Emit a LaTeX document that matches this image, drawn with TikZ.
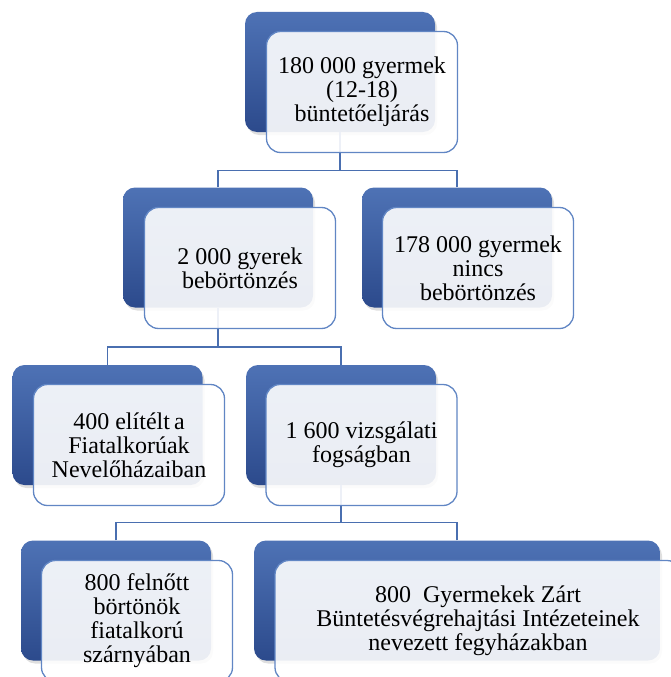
\documentclass[tikz,border=0pt]{standalone}
\usepackage{fontspec}
\setmainfont{Liberation Serif}
\newfontfamily\boxfont{Liberation Serif}
\usepackage{tikz}
\usetikzlibrary{positioning}
\usetikzlibrary{shadows}
\definecolor{boxblue}{HTML}{4E72B5}
\definecolor{boxdarkblue}{HTML}{2C4A8C}
\definecolor{lineblue}{HTML}{4A6FB0}
\definecolor{frameblue}{HTML}{6186C4}
\tikzset {
  % blue box in the back
  backbox/.style = {rectangle, rounded corners=12pt, minimum width=190pt, minimum height=120pt,
    top color=boxblue, middle color=boxblue!85!boxdarkblue, bottom color=boxdarkblue,
    drop shadow={shadow xshift=2pt, shadow yshift=-3pt, opacity=0.25}},
  % text box in front
  frontbox/.style = {rectangle, rounded corners=14pt, draw=frameblue, line width=1.3pt,
    fill=white, fill opacity=0.9, text opacity=1, minimum width=191pt, minimum height=121pt,
    align=center, font=\boxfont\fontsize{24}{24}\selectfont},
  % bottom right boxes
  widebox/.style = {minimum width=406pt},
  % tree lines
  link/.style = {lineblue, line width=1.4pt},
}

\begin{document}
\begin{tikzpicture}[x=1pt, y=-1pt]
      \useasboundingbox (0, 0) rectangle (671, 677);
      \clip (0, 0) rectangle (671, 677);

      \node[backbox] (b1) at (340, 72) {};
      \node[backbox] (b2) at (218, 247.5) {};
      \node[backbox] (b3) at (457, 247.5) {};
      \node[backbox] (b4) at (107.5, 425) {};
      \node[backbox] (b5) at (341, 425) {};
      \node[backbox] (b6) at (116, 600.5) {};
      \node[backbox, widebox] (b7) at (457, 600.5) {};

      \draw [link] (b2.north) -- ++(0, -17) -| (b1.south);
      \draw [link] (b3.north) -- ++(0, -17) -| (b1.south);
      \draw [link] (b4.north) -- ++(0, -18) -| (b2.south);
      \draw [link] (b5.north) -- ++(0, -18) -| (b2.south);
      \draw [link] (b6.north) -- ++(0, -18) -| (b5.south);
      \draw [link] (b7.north) -- ++(0, -18) -| (b5.south);

      \node[frontbox] (1) at (362, 92) {180 000 gyermek\\(12-18)\\büntetőeljárás};
      \node[frontbox] (2) at (240, 268) {2 000 gyerek\\bebörtönzés};
      \node[frontbox] (3) at (478, 268) {178 000 gyermek\\nincs\\bebörtönzés};
      \node[frontbox] (4) at (129, 445) {400 elítélt\,a\\Fiatalkorúak\\Nevelőházaiban};
      \node[frontbox] (5) at (361.5, 445) {1 600 vizsgálati\\fogságban};
      \node[frontbox] (6) at (137, 621) {800 felnőtt\\börtönök\\fiatalkorú\\szárnyában};
      \node[frontbox, widebox] (7) at (478, 621) {800~ Gyermekek Zárt\\Büntetésvégrehajtási Intézeteinek\\nevezett fegyházakban};
    \end{tikzpicture}
\end{document}
